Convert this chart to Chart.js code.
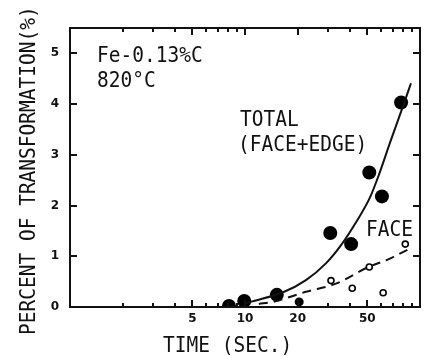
<!DOCTYPE html>
<html>
<head>
<meta charset="utf-8">
<script src="https://cdn.jsdelivr.net/npm/chart.js@4.4.1/dist/chart.umd.min.js"></script>
<style>
  html, body { margin: 0; padding: 0; background: #fff; }
  #wrap { width: 428px; height: 356px; }
</style>
</head>
<body>
<div id="wrap"><canvas id="c" width="428" height="356"></canvas></div>
<script>
// ---- data ----
const totalX = [8.1, 9.9, 15.2, 30.7, 40.4, 51.3, 60.6, 78];
const totalY = [0.02, 0.12, 0.24, 1.46, 1.24, 2.65, 2.18, 4.03];
const faceX = [31, 41, 51.3, 61.6, 82.4];
const faceY = [0.52, 0.37, 0.79, 0.28, 1.24];
const faceDotX = [20.4];
const faceDotY = [0.1];
const totalCurveX = [10, 10.7, 16.5, 22.3, 29.0, 35.4, 43.1, 51.8, 58.3, 67.4, 80.0, 88.8];
const totalCurveY = [0.07, 0.10, 0.29, 0.53, 0.86, 1.22, 1.67, 2.16, 2.61, 3.24, 3.96, 4.41];
const faceCurveX = [12, 14.4, 22.3, 33.1, 50.2, 66.8, 90.8];
const faceCurveY = [0.06, 0.10, 0.30, 0.46, 0.78, 0.95, 1.18];
const xTickValues = [5, 10, 20, 50];
const xTickLabels = ['5', '10', '20', '50'];
const xMinorTicks = [2, 3, 4, 6, 7, 8, 9, 30, 40, 60, 70, 80, 90];
const yTickValues = [0, 1, 2, 3, 4, 5];
const yTickLabels = ['0', '1', '2', '3', '4', '5'];
const xTitle = 'TIME (SEC.)';
const yTitle = 'PERCENT OF TRANSFORMATION(%)';
const noteLines = ['Fe-0.13%C', '820°C'];
const totalLabel = ['TOTAL', '(FACE+EDGE)'];
const faceLabel = 'FACE';

const zip = (xs, ys) => xs.map((x, i) => ({ x: x, y: ys[i] }));

const MONO = '"DejaVu Sans Mono", monospace';

function stretchedText(ctx, text, x, y, size, rot) {
  ctx.save();
  ctx.translate(x, y);
  if (rot) ctx.rotate(rot);
  ctx.scale(1, 1.1);
  ctx.font = size + 'px ' + MONO;
  ctx.fillStyle = '#111';
  ctx.textAlign = 'left';
  ctx.textBaseline = 'alphabetic';
  ctx.fillText(text, 0, 0);
  ctx.restore();
}

const framePlugin = {
  id: 'frame',
  beforeDraw(chart) {
    const ctx = chart.ctx;
    ctx.save();
    ctx.fillStyle = '#fff';
    ctx.fillRect(0, 0, chart.width, chart.height);
    ctx.restore();
  },
  afterDraw(chart) {
    const ctx = chart.ctx;
    const a = chart.chartArea;
    const xs = chart.scales.x, ys = chart.scales.y;
    ctx.save();
    ctx.setLineDash([]);
    ctx.strokeStyle = '#111';
    ctx.fillStyle = '#111';
    ctx.lineWidth = 2;
    ctx.strokeRect(a.left, a.top, a.right - a.left, a.bottom - a.top);
    yTickValues.forEach(v => {
      const p = Math.round(ys.getPixelForValue(v));
      ctx.fillRect(a.left, p - 1, 7, 2);
      ctx.fillRect(a.right - 7, p - 1, 7, 2);
    });
    const drawX = (v, len) => {
      const p = Math.round(xs.getPixelForValue(v));
      ctx.fillRect(p - 1, a.bottom - len, 2, len);
      ctx.fillRect(p - 1, a.top, 2, len);
    };
    xTickValues.forEach(v => drawX(v, 7));
    xMinorTicks.forEach(v => drawX(v, 4));
    ctx.restore();

    // text annotations
    stretchedText(ctx, noteLines[0], 97, 62, 19.5);
    stretchedText(ctx, noteLines[1], 97, 87, 19.5);
    stretchedText(ctx, totalLabel[0], 240, 126, 19.5);
    stretchedText(ctx, totalLabel[1], 238, 151, 19.5);
    stretchedText(ctx, faceLabel, 366, 236, 19.5);
    stretchedText(ctx, xTitle, 163, 352, 19.5);
    stretchedText(ctx, yTitle, 35, 335, 19.5, -Math.PI / 2);
  }
};

new Chart(document.getElementById('c'), {
  type: 'scatter',
  data: {
    datasets: [
      {
        label: 'TOTAL fit',
        data: zip(totalCurveX, totalCurveY),
        showLine: true,
        borderColor: '#111',
        borderWidth: 2,
        pointRadius: 0,
        cubicInterpolationMode: 'monotone',
        fill: false
      },
      {
        label: 'FACE fit',
        data: zip(faceCurveX, faceCurveY),
        showLine: true,
        borderColor: '#111',
        borderWidth: 2,
        borderDash: [9, 6],
        pointRadius: 0,
        cubicInterpolationMode: 'monotone',
        fill: false
      },
      {
        label: 'TOTAL (FACE+EDGE)',
        data: zip(totalX, totalY),
        pointRadius: 7,
        pointBackgroundColor: '#000',
        pointBorderColor: '#000',
        pointBorderWidth: 0
      },
      {
        label: 'FACE',
        data: zip(faceX, faceY),
        pointRadius: 3,
        pointBackgroundColor: '#fff',
        pointBorderColor: '#000',
        pointBorderWidth: 1.6
      },
      {
        label: 'FACE (small)',
        data: zip(faceDotX, faceDotY),
        pointRadius: 4.5,
        pointBackgroundColor: '#000',
        pointBorderColor: '#000',
        pointBorderWidth: 0
      }
    ]
  },
  options: {
    responsive: false,
    animation: false,
    devicePixelRatio: 1,
    layout: { padding: { top: 28, right: 8, left: 0, bottom: 0 } },
    plugins: { legend: { display: false }, tooltip: { enabled: false } },
    scales: {
      x: {
        type: 'logarithmic',
        min: 1,
        max: 100,
        grid: { display: false, drawTicks: false, tickLength: 0 },
        border: { display: false },
        afterBuildTicks: s => { s.ticks = xTickValues.map(v => ({ value: v })); },
        afterFit: s => { s.height = 49; },
        ticks: {
          autoSkip: false,
          maxRotation: 0,
          padding: 5,
          color: '#111',
          font: { family: 'DejaVu Sans', weight: 'bold', size: 12 },
          callback: v => { const i = xTickValues.indexOf(v); return i >= 0 ? xTickLabels[i] : ''; }
        }
      },
      y: {
        type: 'linear',
        min: 0,
        max: 5.5,
        grid: { display: false, drawTicks: false, tickLength: 0 },
        border: { display: false },
        afterBuildTicks: s => { s.ticks = yTickValues.map(v => ({ value: v })); },
        afterFit: s => { s.width = 70; },
        ticks: {
          padding: 11,
          color: '#111',
          font: { family: 'DejaVu Sans', weight: 'bold', size: 12 },
          callback: v => { const i = yTickValues.indexOf(v); return i >= 0 ? yTickLabels[i] : ''; }
        }
      }
    }
  },
  plugins: [framePlugin]
});
</script>
</body>
</html>
